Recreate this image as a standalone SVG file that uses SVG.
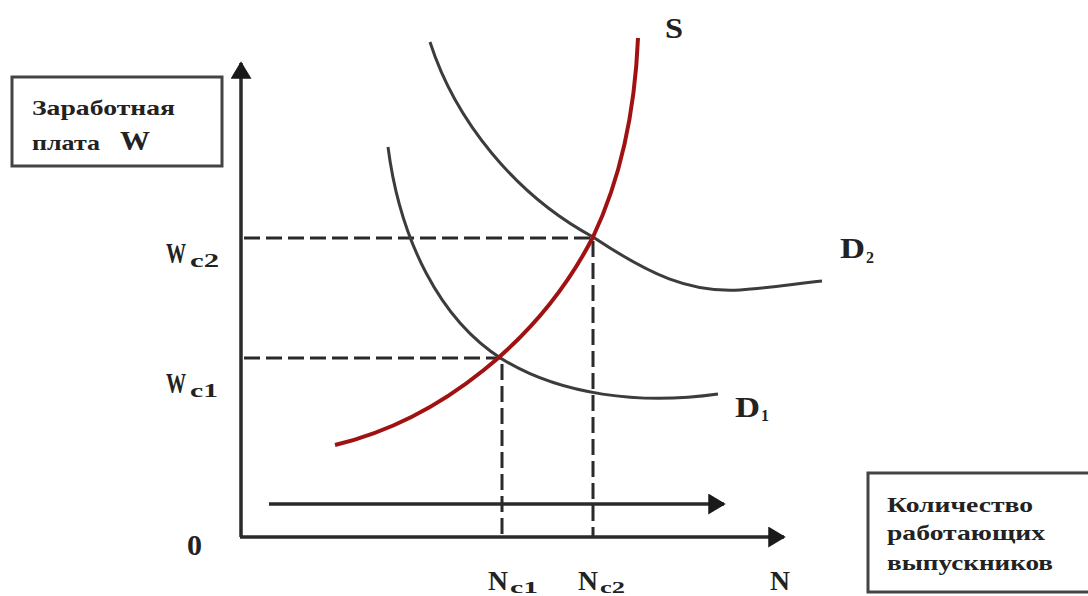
<svg xmlns="http://www.w3.org/2000/svg" width="1088" height="596" viewBox="0 0 1088 596">
<style>
.t{font-family:"Liberation Serif","Times New Roman",serif;font-weight:bold;fill:#222}
.box{fill:#fff;stroke:#444;stroke-width:3}
.axis{fill:none;stroke:#2a2a2a;stroke-width:3.5}
.dash{fill:none;stroke:#2a2a2a;stroke-width:3;stroke-dasharray:16 6}
.d{fill:none;stroke:#3c3c3c;stroke-width:3}
.s{fill:none;stroke:#a01212;stroke-width:4}
</style>
<defs>
<marker id="ah" markerWidth="6" markerHeight="6" refX="4.5" refY="3" orient="auto" markerUnits="strokeWidth">
<path d="M0,0 L5,3 L0,6 Z" fill="#1a1a1a"/>
</marker>
</defs>
<rect width="1088" height="596" fill="#fff"/>
<g id="connectors">
<line class="axis" x1="241" y1="537" x2="241" y2="63" marker-end="url(#ah)"/>
<line class="axis" x1="240" y1="537" x2="784" y2="537" marker-end="url(#ah)"/>
<line class="axis" x1="269" y1="504" x2="724" y2="504" marker-end="url(#ah)"/>
<path class="dash" d="M244,238 H593 V537"/>
<path class="dash" d="M244,358 H502 V537"/>
<path id="D1" class="d" d="M388,147 C400,240 440,320 502,359 C560,395 640,405 718,394"/>
<path id="D2" class="d" d="M430,42 C455,120 515,195 593,237 C650,275 690,293 740,290 C770,288 800,283 822,281"/>
<path id="S" class="s" d="M335,445 C440,420 540,340 593,237 C620,180 635,110 638,38"/>
</g>
<g id="wage-box">
<rect class="box" x="12" y="77" width="210" height="89"/>
<text class="t" x="32" y="115" font-size="22" textLength="143" lengthAdjust="spacingAndGlyphs">Заработная</text>
<text class="t" y="150"><tspan x="32" font-size="22" textLength="68" lengthAdjust="spacingAndGlyphs">плата</tspan><tspan x="120" font-size="28" textLength="30" lengthAdjust="spacingAndGlyphs">W</tspan></text>
</g>
<g id="qty-box">
<rect class="box" x="868" y="473" width="230" height="119"/>
<text class="t" x="887" y="512" font-size="22" textLength="146" lengthAdjust="spacingAndGlyphs">Количество</text>
<text class="t" x="887" y="540" font-size="22" textLength="158" lengthAdjust="spacingAndGlyphs">работающих</text>
<text class="t" x="887" y="570" font-size="22" textLength="166" lengthAdjust="spacingAndGlyphs">выпускников</text>
</g>
<g id="labels">
<text class="t" x="665" y="38" font-size="30" textLength="18" lengthAdjust="spacingAndGlyphs">S</text>
<text class="t"><tspan x="840" y="258" font-size="30" textLength="25" lengthAdjust="spacingAndGlyphs">D</tspan><tspan x="866" y="263" font-size="16">2</tspan></text>
<text class="t"><tspan x="735" y="417" font-size="30" textLength="25" lengthAdjust="spacingAndGlyphs">D</tspan><tspan x="761" y="421" font-size="16">1</tspan></text>
<text class="t" transform="translate(166,263) scale(0.67,1)" font-size="30">W</text>
<text class="t" x="190" y="267" font-size="18" textLength="29" lengthAdjust="spacingAndGlyphs">c2</text>
<text class="t" transform="translate(166,393) scale(0.67,1)" font-size="30">W</text>
<text class="t" x="190" y="397" font-size="18" textLength="28" lengthAdjust="spacingAndGlyphs">c1</text>
<text class="t"><tspan x="488" y="590" font-size="28" textLength="20" lengthAdjust="spacingAndGlyphs">N</tspan><tspan x="510" y="593" font-size="17" textLength="28" lengthAdjust="spacingAndGlyphs">c1</tspan></text>
<text class="t"><tspan x="578" y="590" font-size="28" textLength="20" lengthAdjust="spacingAndGlyphs">N</tspan><tspan x="600" y="593" font-size="17" textLength="25" lengthAdjust="spacingAndGlyphs">c2</tspan></text>
<text class="t" x="770" y="590" font-size="28" textLength="20" lengthAdjust="spacingAndGlyphs">N</text>
<text class="t" x="187" y="555" font-size="30" textLength="15" lengthAdjust="spacingAndGlyphs">0</text>
</g>
</svg>
